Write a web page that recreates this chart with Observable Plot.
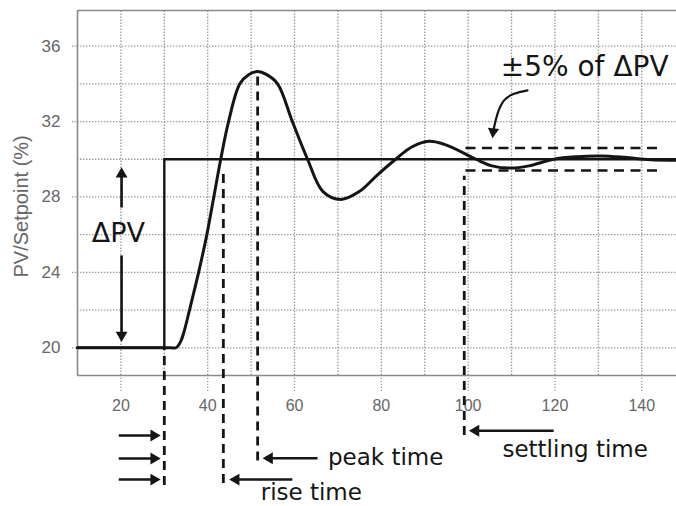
<!DOCTYPE html>
<html><head><meta charset="utf-8">
<script src="https://cdn.jsdelivr.net/npm/d3@7"></script>
<script src="https://cdn.jsdelivr.net/npm/@observablehq/plot@0.6"></script>
<style>body{margin:0;background:#fff}</style>
</head><body><div id="chart"></div>
<script>
// Process variable (PV) response
const pvTime  = [10, 31.5, 32.7, 33.8, 34.6, 35.8, 37.9, 39.8, 41.4, 43.0, 44.8, 47.4, 49.5, 51.5, 53.5, 56.1, 59.5, 63.0, 66.5, 70.7, 75.0, 79.0, 83.3, 87.0, 91.0, 95.0, 101.8, 105.5, 109.8, 114.0, 119.7, 125.0, 130.5, 136.0, 142.0, 148];
const pvValue = [20, 20.0, 20.0, 20.35, 20.9, 22.0, 24.0, 26.0, 28.0, 30.0, 32.0, 34.0, 34.5, 34.65, 34.5, 34.0, 32.0, 30.0, 28.3, 27.87, 28.3, 29.15, 30.0, 30.65, 30.95, 30.75, 30.0, 29.65, 29.53, 29.65, 30.0, 30.13, 30.17, 30.1, 29.98, 29.95];
// Setpoint step
const spTime  = [10, 30, 30, 148];
const spValue = [20, 20, 30, 30];
// Axis ticks and grid
const xTicks = [20, 40, 60, 80, 100, 120, 140];
const yTicks = [20, 24, 28, 32, 36];
const xGrid = [20, 30, 40, 50, 60, 70, 80, 90, 100, 110, 120, 130, 140];
const yGrid = [20, 22, 24, 26, 28, 30, 32, 34, 36];
// Event markers (dashed verticals)
const eventName   = ["step", "rise time", "peak time", "settling time"];
const eventTime   = [30, 43.6, 51.5, 99.1];
const eventTop    = [20, 29.25, 34.6, 29.1];
const eventBottom = [12.7, 12.8, 14.0, 15.35];
// ±5% band
const bandValue = [30.6, 29.4];
const bandStart = 99.5, bandEnd = 145;
// Arrows: tail and tip
const arrowName = ["step1", "step2", "step3", "peak", "rise", "settling", "dpvUp", "dpvDown"];
const arrowX1 = [19.5, 19.5, 19.5, 65.3, 59.5, 119.7, 20.15, 20.15];
const arrowY1 = [15.35, 14.13, 13.01, 14.14, 13.01, 15.6, 27.44, 24.9];
const arrowX2 = [29.2, 29.2, 29.2, 52.6, 44.9, 100.15, 20.15, 20.15];
const arrowY2 = [15.35, 14.13, 13.01, 14.14, 13.01, 15.6, 29.58, 20.3];
// Curved arrow for band label
const curveT = [113.67, 110.58, 108.28, 106.76, 105.98, 105.7];
const curveV = [33.65, 33.47, 33.12, 32.41, 31.70, 31.4];
const curveTip = [105.61, 31.09];
// Labels
const labelText = ["peak time", "rise time", "settling time"];
const labelT = [67.7, 52.2, 107.9];
const labelV = [14.2, 12.3, 14.59];

const X0 = 10, X1 = 148, Y0 = 18.53, Y1 = 37.89;
const pv = pvTime.map((t, i) => ({t, v: pvValue[i]}));
const sp = spTime.map((t, i) => ({t, v: spValue[i]}));
const events = eventName.map((n, i) => ({n, t: eventTime[i], top: eventTop[i], bottom: eventBottom[i]}));
const arrows = arrowName.map((n, i) => {
  const x1 = arrowX1[i], y1 = arrowY1[i], x2 = arrowX2[i], y2 = arrowY2[i];
  const dir = x2 > x1 ? "right" : x2 < x1 ? "left" : y2 > y1 ? "up" : "down";
  const sx = dir === "right" ? -1.1 : dir === "left" ? 1.1 : 0;
  const sy = dir === "up" ? -0.27 : dir === "down" ? 0.27 : 0;
  return {n, x1, y1, x2, y2, ex: x2 + sx, ey: y2 + sy, dir};
});
const curve = curveT.map((t, i) => ({t, v: curveV[i]}));
const labels = labelText.map((s, i) => ({s, t: labelT[i], v: labelV[i]}));

const ink = "#151515";
const gridStyle = {stroke: "#9a9a9a", strokeWidth: 1.3, strokeDasharray: "1.4,1.6"};
const head = (dir, rotate, dx, dy) => Plot.dot(arrows.filter(a => a.dir === dir), {
  x: "x2", y: "y2", symbol: "triangle", r: 4.4, fill: ink, stroke: "none", rotate, dx, dy
});
const sans = "Liberation Sans, Arial, sans-serif";
const verd = "DejaVu Sans, Verdana, sans-serif";

const chart = Plot.plot({
  width: 676, height: 506,
  marginLeft: 77, marginRight: 0, marginTop: 10, marginBottom: 131,
  x: {domain: [X0, X1]},
  y: {domain: [Y0, Y1]},
  style: {background: "#fff"},
  marks: [
    Plot.ruleX(xGrid, {x: d => d, y1: Y0, y2: Y1, ...gridStyle}),
    Plot.ruleY(yGrid, {y: d => d, x1: X0, x2: X1, ...gridStyle}),
    Plot.ruleX(xTicks, {x: d => d, y1: Y0 - 0.85, y2: Y0, ...gridStyle}),
    Plot.ruleY(yTicks, {y: d => d, x1: X0 - 1.15, x2: X0, ...gridStyle}),
    Plot.ruleX([X0], {x: d => d, y1: Y0, y2: Y1, stroke: "#8a8a8a", strokeWidth: 1.6}),
    Plot.ruleY([Y0, Y1], {y: d => d, x1: X0, x2: X1, stroke: "#8a8a8a", strokeWidth: 1.6}),
    Plot.axisX({ticks: xTicks, tickSize: 0, tickPadding: 24, fontSize: 16, fill: "#666", fontFamily: sans, label: null}),
    Plot.axisY({ticks: yTicks, tickSize: 0, tickPadding: 17, fontSize: 17, fill: "#666", fontFamily: sans, label: null}),
    Plot.text(["PV/Setpoint (%)"], {x: X0 - 12.8, y: 27.5, text: d => d, rotate: -90, fontSize: 20, fill: "#666", fontFamily: sans, textAnchor: "middle"}),
    Plot.ruleY(bandValue, {y: d => d, x1: bandStart, x2: bandEnd, stroke: ink, strokeWidth: 2.4, strokeDasharray: "10,6.5"}),
    Plot.ruleX(events, {x: "t", y1: "bottom", y2: "top", stroke: ink, strokeWidth: 2.8, strokeDasharray: "9,6"}),
    Plot.line(sp, {x: "t", y: "v", stroke: ink, strokeWidth: 2.4}),
    Plot.line(pv, {x: "t", y: "v", stroke: ink, strokeWidth: 3, curve: "catmull-rom"}),
    Plot.link(arrows, {x1: "x1", y1: "y1", x2: "ex", y2: "ey", stroke: ink, strokeWidth: 2.6}),
    head("right", 90, -7, 0),
    head("left", -90, 7, 0),
    head("up", 0, 0, 7),
    head("down", 180, 0, -7),
    Plot.line(curve, {x: "t", y: "v", stroke: ink, strokeWidth: 2.2, curve: "natural"}),
    Plot.dot([curveTip], {x: d => d[0], y: d => d[1], symbol: "triangle", r: 4.2, fill: ink, rotate: 186, dx: 0.7, dy: -7}),
    Plot.text(labels, {x: "t", y: "v", text: "s", textAnchor: "start", fontSize: 23, fill: ink, fontFamily: verd}),
    Plot.text(["ΔPV"], {x: 19.4, y: 26.06, text: d => d, textAnchor: "middle", fontSize: 27, fill: ink, fontFamily: verd}),
    Plot.text(["±5% of ΔPV"], {x: 107.5, y: 34.89, text: d => d, textAnchor: "start", fontSize: 28, fill: ink, fontFamily: verd})
  ]
});
document.getElementById("chart").append(chart);
</script>
</body></html>
